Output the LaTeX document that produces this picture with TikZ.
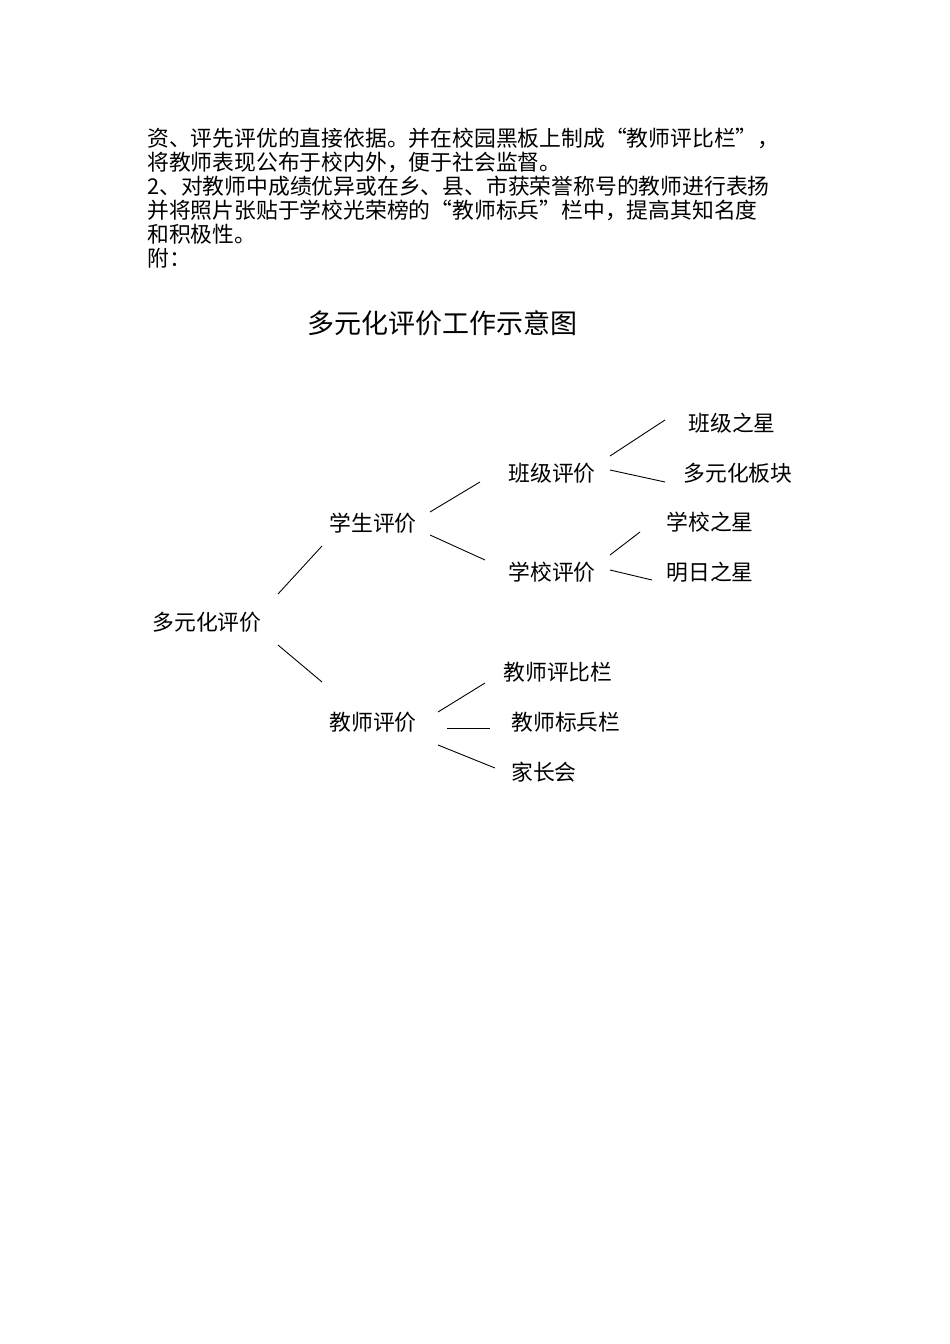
\documentclass[tikz,border=0pt]{standalone}
\usepackage{fontspec}
\newfontfamily\cjk{Noto Sans CJK SC}
\begin{document}
\begin{tikzpicture}[x=1pt,y=-1pt,
  txt/.style={font=\cjk\fontsize{21.8}{21.8}\selectfont,inner sep=0pt,anchor=west},
  tn/.style={font=\cjk\fontsize{21.8}{21.8}\selectfont,inner sep=0pt},
  ln/.style={line width=0.9pt}]
\useasboundingbox[fill=white] (0,0) rectangle (950,1344);
\node[txt] (l1) at (147,138) {资、评先评优的直接依据。并在校园黑板上制成“教师评比栏”，};
\node[txt] (l2) at (147,162) {将教师表现公布于校内外，便于社会监督。};
\node[txt] (l3) at (147,186) {2、对教师中成绩优异或在乡、县、市获荣誉称号的教师进行表扬};
\node[txt] (l4) at (147,210) {并将照片张贴于学校光荣榜的“教师标兵”栏中，提高其知名度};
\node[txt] (l5) at (147,234) {和积极性。};
\node[txt] (l6) at (147,258) {附：};
\node[tn,font=\cjk\fontsize{27}{27}\selectfont] (title) at (442,323) {多元化评价工作示意图};
\node[tn] (root) at (207,622) {多元化评价};
\node[tn] (stu) at (373,523) {学生评价};
\node[tn] (tea) at (373,722) {教师评价};
\node[tn] (cls) at (552,473) {班级评价};
\node[tn] (sch) at (552,572) {学校评价};
\node[tn] (c1) at (732,423) {班级之星};
\node[tn] (c2) at (738,473) {多元化板块};
\node[tn] (s1) at (710,522) {学校之星};
\node[tn] (s2) at (710,572) {明日之星};
\node[tn] (t1) at (558,672) {教师评比栏};
\node[tn] (t2) at (566,722) {教师标兵栏};
\node[tn] (t3) at (544,772) {家长会};
\coordinate (a) at (278,594); \coordinate (b) at (322,546);
\coordinate (c) at (278,645); \coordinate (d) at (322,682);
\coordinate (e) at (430,512); \coordinate (f) at (480,482);
\coordinate (g) at (430,535); \coordinate (h) at (485,560);
\coordinate (i) at (610,456); \coordinate (j) at (665,420);
\coordinate (k) at (610,470); \coordinate (l) at (665,482);
\coordinate (m) at (610,555); \coordinate (n) at (640,532);
\coordinate (o) at (610,570); \coordinate (p) at (652,580);
\coordinate (q) at (438,712); \coordinate (r) at (485,683);
\coordinate (s) at (447,728); \coordinate (t) at (490,728);
\coordinate (u) at (438,745); \coordinate (v) at (495,768);
\foreach \x/\y in {a/b,c/d,e/f,g/h,i/j,k/l,m/n,o/p,q/r,s/t,u/v}
  {\draw[ln] (\x) -- (\y);}
\end{tikzpicture}
\end{document}
